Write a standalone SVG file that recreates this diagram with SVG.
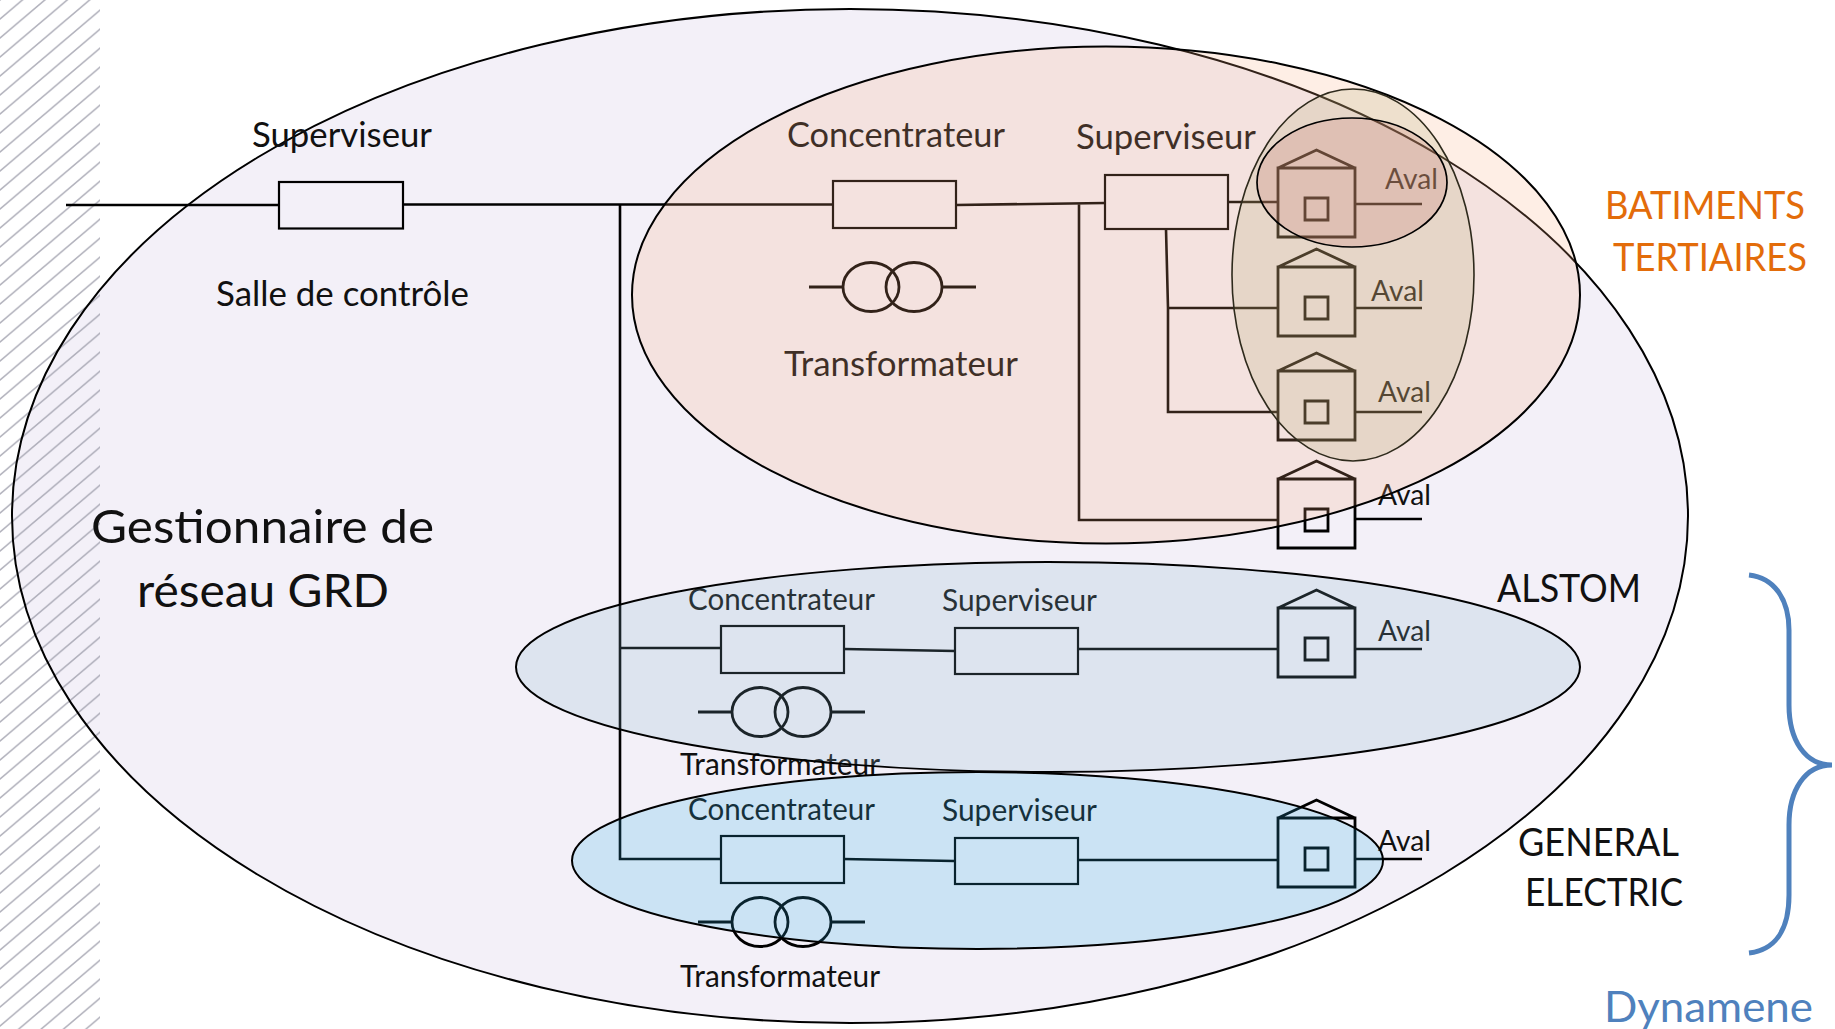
<svg xmlns="http://www.w3.org/2000/svg" width="1835" height="1029" viewBox="0 0 1835 1029">
<defs>
<style>
text{font-family:"Lato","Open Sans",sans-serif;fill:#111;font-size:34px}
.aval{font-size:29px}
.sm{font-size:30px}
.big{font-size:47px}
.lab{font-size:39px}
.box{fill:none;stroke:#000;stroke-width:2.200}
.ln{fill:none;stroke:#000;stroke-width:2.600}
.h{fill:none;stroke:#000;stroke-width:2.800}
.el{stroke:#000;stroke-width:2}
</style>
<pattern id="hatch" patternUnits="userSpaceOnUse" width="22.4" height="19">
<path d="M-2.24,20.9L24.64,-1.9M-2.24,1.9L2.24,-1.9M20.16,20.9L24.64,17.1" stroke="#a0a0ac" stroke-width="1.6" fill="none" opacity=".8"/>
</pattern>
<g id="house">
<path class="h" d="M0,18H77V87H0ZM0,18L38.500,0L77,18M27,48H50V70H27Z"/>
</g>
<g id="xf">
<ellipse class="h" cx="0" cy="0" rx="28" ry="24.500"/>
<ellipse class="h" cx="43" cy="0" rx="28" ry="24.500"/>
<path class="h" d="M-28,0H-62M71,0H105"/>
</g>
</defs>
<g id="grd-fill"><ellipse cx="850" cy="516" rx="838" ry="507" fill="#f3f0f8"/></g>
<rect id="hatching" x="0" y="0" width="100" height="1029" fill="url(#hatch)"/>
<g id="grd-outline"><ellipse cx="850" cy="516" rx="838" ry="507" fill="none" class="el"/></g>
<g id="connectors">
<path class="ln" d="M66,205H279M403,204.500H832M956,205L1105,203M1228,202H1278M620,205V859H721M620,648H721M1079,204V520H1278M1166,229L1168,308V412H1278M1168,308H1278M844,649L955,651M1078,649H1278M843,859L954,861M1077,860H1278"/>
<path class="ln" d="M1355,204H1422M1355,308H1422M1355,412H1422M1355,519H1422M1355,649H1422M1355,859H1422"/>
</g>
<g id="sup-salle"><rect class="box" x="279" y="182" width="124" height="46.500"/>
<text x="252" y="147" textLength="180" lengthAdjust="spacingAndGlyphs">Superviseur</text>
<text x="216" y="306" textLength="253" lengthAdjust="spacingAndGlyphs">Salle de contrôle</text></g>
<g id="conc-bat"><rect class="box" x="833" y="181" width="123" height="47"/>
<text x="787" y="147" textLength="218" lengthAdjust="spacingAndGlyphs">Concentrateur</text></g>
<g id="sup-bat"><rect class="box" x="1105" y="175" width="123" height="54"/>
<text x="1076" y="149" textLength="180" lengthAdjust="spacingAndGlyphs">Superviseur</text></g>
<g id="xf-bat"><use href="#xf" x="871" y="287"/>
<text x="784" y="376" textLength="234" lengthAdjust="spacingAndGlyphs">Transformateur</text></g>
<g id="house-1"><use href="#house" x="1278" y="150"/><text class="aval" x="1385" y="189" textLength="53" lengthAdjust="spacingAndGlyphs">Aval</text></g>
<g id="house-2"><use href="#house" x="1278" y="249"/><text class="aval" x="1371" y="301" textLength="53" lengthAdjust="spacingAndGlyphs">Aval</text></g>
<g id="house-3"><use href="#house" x="1278" y="353"/><text class="aval" x="1378" y="402" textLength="53" lengthAdjust="spacingAndGlyphs">Aval</text></g>
<g id="house-4"><use href="#house" x="1278" y="461"/><text class="aval" x="1378" y="505" textLength="53" lengthAdjust="spacingAndGlyphs">Aval</text></g>
<g id="conc-alstom"><rect class="box" x="721" y="626" width="123" height="47"/>
<text class="sm" x="688" y="610" textLength="187" lengthAdjust="spacingAndGlyphs">Concentrateur</text></g>
<g id="sup-alstom"><rect class="box" x="955" y="628" width="123" height="46"/>
<text class="sm" x="942" y="611" textLength="155" lengthAdjust="spacingAndGlyphs">Superviseur</text></g>
<g id="xf-alstom"><use href="#xf" x="760" y="712"/>
<text class="sm" x="680" y="775" textLength="200" lengthAdjust="spacingAndGlyphs">Transformateur</text></g>
<g id="house-5"><use href="#house" x="1278" y="590"/><text class="aval" x="1378" y="641" textLength="53" lengthAdjust="spacingAndGlyphs">Aval</text></g>
<g id="conc-ge"><rect class="box" x="721" y="836" width="123" height="47"/>
<text class="sm" x="688" y="820" textLength="187" lengthAdjust="spacingAndGlyphs">Concentrateur</text></g>
<g id="sup-ge"><rect class="box" x="955" y="838" width="123" height="46"/>
<text class="sm" x="942" y="821" textLength="155" lengthAdjust="spacingAndGlyphs">Superviseur</text></g>
<g id="xf-ge"><use href="#xf" x="760" y="922"/>
<text class="sm" x="680" y="987" textLength="200" lengthAdjust="spacingAndGlyphs">Transformateur</text></g>
<g id="house-6"><use href="#house" x="1278" y="800"/><text class="aval" x="1378" y="851" textLength="53" lengthAdjust="spacingAndGlyphs">Aval</text></g>
<g id="grd-label">
<text class="big" x="91" y="543" textLength="343" lengthAdjust="spacingAndGlyphs">Gestionnaire de</text>
<text class="big" x="137" y="607" textLength="252" lengthAdjust="spacingAndGlyphs">réseau GRD</text></g>
<g id="bat-ellipse"><ellipse cx="1106" cy="295" rx="474" ry="248.500" fill="rgb(252,170,123)" fill-opacity=".2" class="el"/></g>
<g id="group-ellipse"><ellipse cx="1353" cy="275" rx="121" ry="186" fill="rgb(175,170,110)" fill-opacity=".2" stroke="#2e2a1c" stroke-width="1.600"/></g>
<g id="small-ellipse"><ellipse cx="1352" cy="182.500" rx="95" ry="64.500" fill="rgb(195,105,100)" fill-opacity=".2" stroke="#000" stroke-width="1.700"/></g>
<g id="alstom-ellipse"><ellipse cx="1048" cy="667" rx="532" ry="105" fill="rgb(135,180,205)" fill-opacity=".2" class="el"/></g>
<g id="ge-ellipse"><ellipse cx="977.500" cy="860.500" rx="405.500" ry="88.500" fill="rgb(45,175,230)" fill-opacity=".2" class="el"/></g>
<g id="labels">
<text class="lab" x="1605" y="219" textLength="200" lengthAdjust="spacingAndGlyphs" style="fill:#e36c0a">BATIMENTS</text>
<text class="lab" x="1613" y="271" textLength="194" lengthAdjust="spacingAndGlyphs" style="fill:#e36c0a">TERTIAIRES</text>
<text class="lab" x="1497" y="602" textLength="144" lengthAdjust="spacingAndGlyphs">ALSTOM</text>
<text class="lab" x="1518" y="856" textLength="161" lengthAdjust="spacingAndGlyphs">GENERAL</text>
<text class="lab" x="1525" y="906" textLength="158" lengthAdjust="spacingAndGlyphs">ELECTRIC</text>
<text class="lab" x="1604" y="1022" textLength="209" lengthAdjust="spacingAndGlyphs" style="font-size:43px;fill:#4f81bd">Dynamene</text>
</g>
<g id="brace"><path d="M1749,575C1775,578 1789,600 1789,630V705C1789,740 1805,765 1832,765C1805,765 1789,790 1789,825V895C1789,930 1775,950 1749,953" fill="none" stroke="#4f81bd" stroke-width="5"/></g>
</svg>
